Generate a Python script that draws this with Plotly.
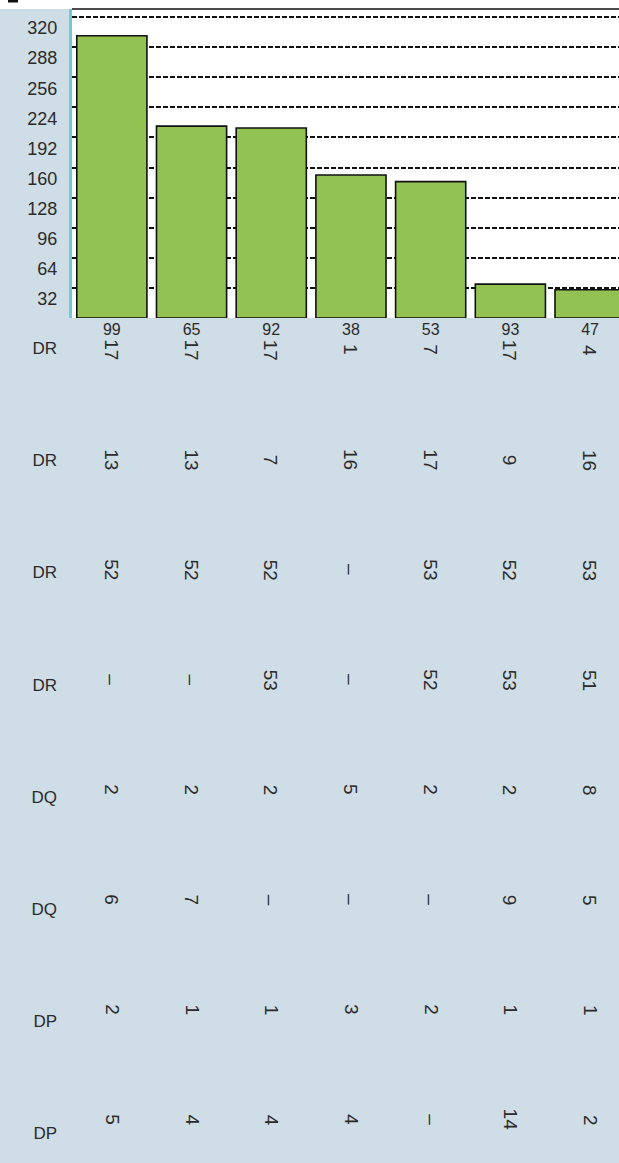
import plotly.graph_objects as go

categories = ["99", "65", "92", "38", "53", "93", "47"]
bar_values = [300, 204, 202, 152, 145, 36, 30]
y_ticks = [32, 64, 96, 128, 160, 192, 224, 256, 288, 320]

row_labels = ["DR", "DR", "DR", "DR", "DQ", "DQ", "DP", "DP"]
table_rows = [
    ["17", "17", "17", "1", "7", "17", "4"],
    ["13", "13", "7", "16", "17", "9", "16"],
    ["52", "52", "52", "–", "53", "52", "53"],
    ["–", "–", "53", "–", "52", "53", "51"],
    ["2", "2", "2", "5", "2", "2", "8"],
    ["6", "7", "–", "–", "–", "9", "5"],
    ["2", "1", "1", "3", "2", "1", "1"],
    ["5", "4", "4", "4", "–", "14", "2"],
]

FONT = "Liberation Sans"
TXT = "#2b2b2b"
BG = "#cfdde6"

xpos = list(range(len(categories)))
rows = list(range(len(row_labels)))

fig = go.Figure()
fig.add_trace(go.Bar(
    x=xpos, y=bar_values, width=0.88,
    marker=dict(color="#92c352", line=dict(color="#111111", width=1.6)),
    xaxis="x", yaxis="y", showlegend=False, hoverinfo="skip",
))
# empty traces so the table axes get their own subplots
for ax in ("y2", "y3"):
    fig.add_trace(go.Scatter(
        x=[None], y=[None], mode="markers", xaxis="x", yaxis=ax,
        showlegend=False, hoverinfo="skip",
    ))

annotations = []
for r, row in enumerate(table_rows):
    for c, val in enumerate(row):
        annotations.append(dict(
            x=xpos[c], y=rows[r], xref="x", yref="y2", text=val, showarrow=False,
            textangle=90, xanchor="center", yanchor="middle",
            font=dict(family=FONT, size=19, color=TXT),
        ))

W, H = 619, 1163
top_m = 9
plot_h = H - top_m
bar_bottom_px = 318
dom_split = (H - bar_bottom_px) / plot_h

fig.update_layout(
    width=W, height=H,
    margin=dict(l=72, r=0, t=top_m, b=0, pad=0),
    paper_bgcolor=BG, plot_bgcolor="rgba(0,0,0,0)",
    font=dict(family=FONT, color=TXT),
    xaxis=dict(
        range=[-0.5, 6.363], anchor="y",
        tickvals=xpos, ticktext=categories,
        showgrid=False, zeroline=False, showline=False, ticks="",
        tickfont=dict(size=16, color=TXT),
    ),
    yaxis=dict(
        domain=[dom_split, 1], range=[0, 328.5], anchor="x",
        tickvals=y_ticks, ticktext=[str(v) for v in y_ticks],
        showgrid=True, gridcolor="#111111", gridwidth=1.5, griddash="5px,2px",
        zeroline=False, showline=True, linecolor="#6dcbd8", linewidth=3,
        ticks="", tickfont=dict(size=18, color=TXT), ticklabelshift=11,
        ticklabelstandoff=8,
    ),
    # value rows
    yaxis2=dict(
        domain=[0, dom_split], range=[7.391, -0.291], anchor="x",
        showticklabels=False,
        showgrid=False, zeroline=False, showline=False, ticks="",
    ),
    # row labels
    yaxis3=dict(
        domain=[0, dom_split], range=[7.264, -0.267], anchor="x",
        overlaying="y2",
        tickvals=rows, ticktext=row_labels,
        showgrid=False, zeroline=False, showline=False, ticks="",
        tickfont=dict(size=17, color=TXT), ticklabelstandoff=14,
    ),
    annotations=annotations,
    shapes=[
        dict(type="rect", xref="paper", yref="paper", x0=0, x1=1, y0=dom_split, y1=1,
             fillcolor="white", line=dict(width=0), layer="below"),
        dict(type="rect", xref="paper", yref="paper", x0=-0.2, x1=1.02,
             ysizemode="pixel", yanchor=1, y0=0, y1=12,
             fillcolor="white", line=dict(width=0), layer="above"),
        dict(type="line", xref="paper", yref="paper", x0=0, x1=1, y0=1, y1=1,
             line=dict(color="#111111", width=1.5)),
        dict(type="rect", xref="paper", yref="paper",
             xsizemode="pixel", xanchor=0, x0=-64, x1=-54,
             ysizemode="pixel", yanchor=1, y0=6.5, y1=9,
             fillcolor="#111111", line=dict(width=0)),
    ],
)

fig.write_html(
    "out.html",
    config={"displayModeBar": False},
    post_script="document.body.style.margin='0';document.body.style.overflow='hidden';",
)
